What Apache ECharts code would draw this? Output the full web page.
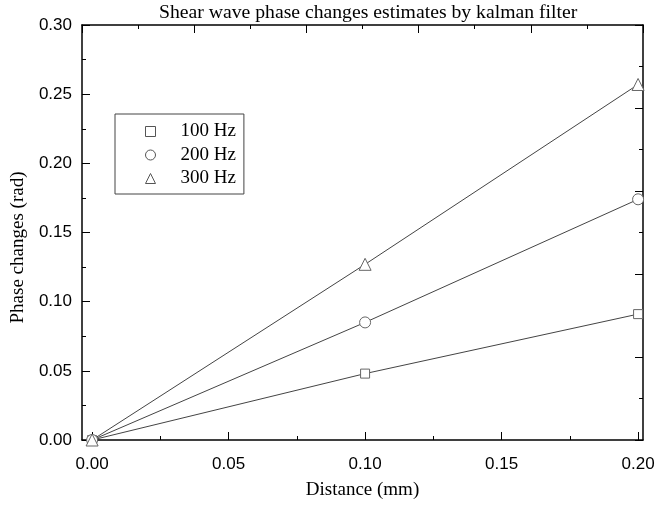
<!DOCTYPE html>
<html>
<head>
<meta charset="utf-8">
<script src="https://cdn.jsdelivr.net/npm/echarts@6/dist/echarts.min.js"></script>
<style>
html,body{margin:0;padding:0;background:#fff;}
#chart{width:667px;height:505px;}
</style>
</head>
<body>
<div id="chart"></div>
<script>
// ---- data ----
const distances = [0, 0.1, 0.2];
const phase100 = [0, 0.048, 0.091];
const phase200 = [0, 0.085, 0.174];
const phase300 = [0, 0.127, 0.257];
const seriesNames = ['100 Hz', '200 Hz', '300 Hz'];
const xTickValues = [0, 0.05, 0.10, 0.15, 0.20];
const xMinorTickValues = [0.025, 0.075, 0.125, 0.175];

const serif = 'Liberation Serif';
const sans = 'Liberation Sans';

function pairs(ys) { return distances.map((x, i) => [x, ys[i]]); }

const chart = echarts.init(document.getElementById('chart'));

const commonSeries = {
  type: 'line',
  xAxisIndex: 0,
  yAxisIndex: 0,
  lineStyle: { color: '#444', width: 1 },
  itemStyle: { color: '#fff', borderColor: '#666', borderWidth: 1 },
  showAllSymbol: true,
  clip: false,
  emphasis: { disabled: true },
  z: 3
};

chart.setOption({
  animation: false,
  backgroundColor: '#fff',
  title: {
    text: 'Shear wave phase changes estimates by kalman filter',
    left: 159,
    top: 3,
    padding: 0,
    textStyle: { fontFamily: serif, fontSize: 19.7, fontWeight: 'normal', color: '#000' }
  },
  legend: {
    orient: 'vertical',
    left: 115,
    top: 114,
    padding: [8, 8, 6, 30],
    itemGap: 4.5,
    itemWidth: 10,
    itemHeight: 10,
    borderColor: '#444',
    borderWidth: 1,
    itemStyle: { color: '#fff', borderColor: '#555', borderWidth: 1 },
    textStyle: { fontFamily: serif, fontSize: 19, color: '#000', padding: [0, 0, 0, 20] },
    data: [
      { name: seriesNames[0], icon: 'rect' },
      { name: seriesNames[1], icon: 'circle' },
      { name: seriesNames[2], icon: 'triangle' }
    ]
  },
  grid: { left: 82, right: 24, top: 25, bottom: 65, containLabel: false },
  xAxis: [
    {
      type: 'value',
      position: 'bottom',
      min: -0.0037,
      max: 0.2018,
      name: 'Distance (mm)',
      nameLocation: 'middle',
      nameGap: 41,
      nameTextStyle: { fontFamily: serif, fontSize: 19, color: '#000' },
      axisLine: { show: true, onZero: false, lineStyle: { color: '#000', width: 1.5 } },
      axisTick: { show: true, inside: true, length: 8, customValues: xTickValues, lineStyle: { color: '#000', width: 1 } },
      axisLabel: { show: true, margin: 16, customValues: xTickValues, fontFamily: sans, fontSize: 17, color: '#000',
        formatter: v => Number(v).toFixed(2) },
      splitLine: { show: false }
    },
    {
      type: 'value',
      position: 'top',
      min: 0, max: 10, interval: 2,
      axisLine: { show: true, onZero: false, lineStyle: { color: '#000', width: 1.5 } },
      axisTick: { show: true, inside: true, length: 8, lineStyle: { color: '#000', width: 1 } },
      minorTick: { show: true, splitNumber: 2, length: 4, lineStyle: { color: '#000', width: 1 } },
      axisLabel: { show: false },
      splitLine: { show: false }
    },
    {
      type: 'value',
      position: 'bottom',
      min: -0.0037,
      max: 0.2018,
      axisLine: { show: false, onZero: false },
      axisTick: { show: true, inside: true, length: 4, customValues: xMinorTickValues, lineStyle: { color: '#000', width: 1 } },
      axisLabel: { show: false },
      splitLine: { show: false }
    }
  ],
  yAxis: [
    {
      type: 'value',
      position: 'left',
      min: 0, max: 0.30, interval: 0.05,
      name: 'Phase changes (rad)',
      nameLocation: 'middle',
      nameGap: 50,
      nameTextStyle: { fontFamily: serif, fontSize: 19, color: '#000', padding: [0, 30, 0, 0] },
      axisLine: { show: true, onZero: false, lineStyle: { color: '#000', width: 1.5 } },
      axisTick: { show: true, inside: true, length: 8, lineStyle: { color: '#000', width: 1 } },
      minorTick: { show: true, splitNumber: 2, length: 4, lineStyle: { color: '#000', width: 1 } },
      axisLabel: { show: true, margin: 10, fontFamily: sans, fontSize: 17, color: '#000',
        formatter: v => Number(v).toFixed(2) },
      splitLine: { show: false }
    },
    {
      type: 'value',
      position: 'right',
      min: 0, max: 10, interval: 2,
      axisLine: { show: true, onZero: false, lineStyle: { color: '#000', width: 1.5 } },
      axisTick: { show: true, inside: true, length: 8, lineStyle: { color: '#000', width: 1 } },
      minorTick: { show: true, splitNumber: 2, length: 4, lineStyle: { color: '#000', width: 1 } },
      axisLabel: { show: false },
      splitLine: { show: false }
    }
  ],
  series: [
    Object.assign({}, commonSeries, { name: seriesNames[0], data: pairs(phase100), symbol: 'rect', symbolSize: 9 }),
    Object.assign({}, commonSeries, { name: seriesNames[1], data: pairs(phase200), symbol: 'circle', symbolSize: 11 }),
    Object.assign({}, commonSeries, { name: seriesNames[2], data: pairs(phase300), symbol: 'triangle', symbolSize: 12 })
  ]
});
</script>
</body>
</html>
